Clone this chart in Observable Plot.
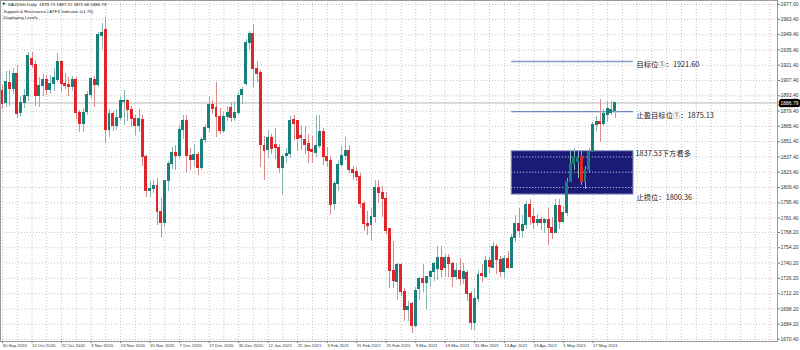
<!DOCTYPE html>
<html><head><meta charset="utf-8">
<script src="https://cdn.jsdelivr.net/npm/d3@7"></script>
<script src="https://cdn.jsdelivr.net/npm/@observablehq/plot@0.6"></script>
<style>
html,body{margin:0;padding:0;background:#fff;}
#chart{width:800px;height:350px;overflow:hidden;}
</style></head><body><div id="chart"></div>
<script>
// XAUUSD Daily, 30 Sep 2020 .. 25 May 2021 (bar index 0..166)
const opens = [
1898,1887,1905,1900,1913,1878,1887,1893,1927,1922,
1893,1902,1908,1899,1904,1908,1924,1904,1903,1901,
1908,1878,1868,1879,1894,1908,1903,1948,1954,1862,
1877,1866,1873,1888,1889,1880,1872,1866,1871,1837,
1806,1808,1811,1787,1777,1815,1831,1841,1838,1862,
1870,1838,1835,1839,1827,1853,1864,1885,1882,1874,
1861,1874,1882,1873,1878,1894,1904,1942,1950,1918,
1914,1847,1844,1855,1848,1846,1827,1838,1840,1871,
1870,1857,1853,1849,1844,1841,1847,1860,1837,1834,
1794,1813,1830,1838,1843,1825,1824,1819,1794,1776,
1775,1782,1809,1804,1799,1771,1733,1723,1738,1714,
1697,1703,1683,1716,1726,1722,1727,1732,1735,1745,
1736,1745,1739,1727,1733,1726,1731,1712,1685,1707,
1730,1727,1742,1736,1755,1743,1732,1744,1736,1763,
1776,1770,1775,1793,1782,1777,1780,1777,1780,1772,
1768,1792,1778,1786,1814,1831,1833,1837,1814,1825,
1842,1867,1869,1868,1876,1878,1879.73];
const highs = [
1903,1916,1917,1918,1921,1893,1899,1933,1933,1926,
1910,1913,1912,1912,1918,1932,1926,1914,1910,1911,
1910,1880,1882,1897,1910,1911,1951,1960,1965,1881,
1879,1881,1892,1898,1890,1884,1875,1881,1875,1839,
1815,1816,1818,1799,1816,1833,1846,1848,1866,1875,
1875,1845,1849,1841,1855,1867,1892,1889,1906,1882,
1878,1884,1887,1888,1896,1901,1945,1952,1959,1925,
1917,1856,1862,1858,1863,1849,1840,1845,1874,1875,
1871,1865,1865,1858,1856,1875,1875,1863,1846,1838,
1815,1834,1847,1855,1848,1829,1828,1822,1797,1787,
1790,1816,1816,1810,1805,1772,1760,1740,1740,1717,
1705,1704,1718,1727,1739,1728,1733,1741,1755,1755,
1748,1748,1741,1740,1744,1740,1733,1714,1716,1733,
1739,1746,1745,1759,1757,1746,1747,1751,1766,1784,
1790,1784,1797,1798,1790,1785,1782,1781,1790,1782,
1798,1798,1792,1818,1843,1845,1843,1843,1829,1845,
1869,1874,1890,1881,1888,1888,1887.21];
const lows = [
1881,1883,1884,1895,1873,1874,1882,1888,1918,1884,
1883,1893,1894,1895,1897,1906,1896,1899,1893,1897,
1872,1860,1860,1875,1891,1883,1901,1936,1850,1855,
1861,1862,1871,1866,1870,1864,1857,1860,1829,1800,
1800,1804,1775,1764,1773,1806,1826,1825,1836,1853,
1823,1825,1828,1820,1825,1850,1860,1876,1855,1858,
1859,1870,1869,1870,1876,1885,1902,1935,1901,1906,
1828,1816,1836,1840,1835,1822,1802,1831,1836,1852,
1842,1843,1840,1831,1831,1837,1845,1830,1828,1784,
1788,1806,1828,1834,1822,1816,1815,1790,1769,1765,
1760,1776,1795,1782,1766,1717,1717,1706,1710,1687,
1687,1676,1681,1706,1713,1697,1718,1723,1724,1727,
1727,1727,1718,1724,1720,1721,1705,1678,1678,1704,
1722,1726,1731,1735,1730,1727,1726,1734,1735,1759,
1764,1763,1771,1775,1771,1774,1770,1767,1756,1762,
1767,1771,1776,1783,1814,1825,1818,1811,1808,1823,
1841,1861,1851,1865,1869,1875,1872.68];
const closes = [
1886,1906,1900,1913,1877,1887,1893,1930,1922,1893,
1902,1908,1899,1904,1910,1924,1904,1902,1901,1908,
1878,1868,1878,1894,1909,1903,1949,1951,1862,1877,
1866,1873,1889,1889,1880,1872,1866,1872,1837,1806,
1808,1811,1787,1777,1815,1831,1841,1838,1862,1870,
1838,1835,1839,1827,1853,1864,1885,1881,1874,1861,
1874,1878,1873,1878,1893,1899,1942,1950,1918,1913,
1848,1843,1855,1845,1846,1827,1837,1840,1870,1868,
1854,1855,1848,1843,1842,1847,1860,1837,1834,1793,
1813,1830,1838,1843,1825,1823,1819,1794,1776,1774,
1782,1809,1804,1799,1770,1733,1724,1738,1714,1697,
1700,1683,1715,1726,1722,1727,1732,1739,1745,1734,
1745,1739,1727,1733,1726,1732,1712,1685,1707,1729,
1728,1742,1737,1755,1743,1732,1744,1736,1763,1776,
1770,1775,1793,1782,1777,1780,1777,1780,1772,1768,
1792,1778,1786,1814,1831,1836,1836,1814,1825,1842,
1867,1869,1868,1877,1881,1880,1886.79];

const dateTickBars = [0,8,16,24,32,40,48,56,64,72,80,88,96,104,112,120,128,136,144,152,160];
const dateTickLabels = ["30 Sep 2020","12 Oct 2020","22 Oct 2020","3 Nov 2020","13 Nov 2020","25 Nov 2020","7 Dec 2020","17 Dec 2020","30 Dec 2020","12 Jan 2021","22 Jan 2021","3 Feb 2021","15 Feb 2021","25 Feb 2021","9 Mar 2021","19 Mar 2021","31 Mar 2021","13 Apr 2021","23 Apr 2021","5 May 2021","17 May 2021"];
const priceTicks = [1977.00,1963.40,1949.40,1935.40,1921.40,1907.40,1893.40,1879.40,1865.40,1851.40,1837.40,1823.40,1809.40,1795.40,1781.40,1768.20,1754.20,1740.20,1726.20,1712.20,1698.20,1684.20,1670.40];

const levelValues = [1921.60, 1875.13, 1837.53, 1800.36];
const levelTexts = ["目标位①：1921.60", "止盈目标位①：1875.13", "1837.53下方看多", "止损位：1800.36"];
const levelStartBar = 138, levelEndBar = 171;
const bidPrice = 1886.79;
const headerLines = ["XAUUSD,Daily  1879.73 1887.21 1872.68 1886.79", "Support & Resistance | ATFX Indicator (v1.70)\nDisplaying Levels"];

const bars = opens.map((o, i) => ({i, o, h: highs[i], l: lows[i], c: closes[i], up: closes[i] >= o}));
const levels = levelValues.map((v, k) => ({v, t: levelTexts[k]}));
const gridBars = d3.range(0, 211, 4);
const boxGrid = priceTicks.filter(v => v > levelValues[3] && v < levelValues[2]);

const BULL = "#17807a", BEAR = "#e0262b", BULLW = "#86b9b6", BEARW = "#d98a8a";
const small = {fontFamily: "Liberation Sans, Arial, sans-serif", fill: "#333"};
const cjk = "Noto Sans CJK SC, sans-serif";

const chart = Plot.plot({
  width: 800, height: 350,
  marginLeft: 0, marginRight: 23, marginTop: 0, marginBottom: 9,
  style: {background: "#fff", overflow: "visible"},
  x: {domain: [-0.542, 210.03], axis: null},
  y: {domain: [1668.36, 1980.66], axis: null},
  marks: [
    Plot.ruleX(gridBars, {x: d => d, stroke: "#c4c4c4", strokeDasharray: "1,2"}),
    Plot.ruleY(priceTicks, {y: d => d, stroke: "#c4c4c4", strokeDasharray: "1,2"}),
    Plot.rect([levelValues], {x1: () => levelStartBar, x2: () => levelEndBar, y1: d => d[3], y2: d => d[2],
      fill: "#1b1b75", stroke: "#8a8ac4", strokeWidth: 1, insetTop: -5.5, insetBottom: 2.8}),
    Plot.ruleY(boxGrid, {y: d => d, x1: () => levelStartBar, x2: () => levelEndBar, stroke: "#d8d8f0", strokeDasharray: "1,2"}),
    Plot.ruleY([levelValues[0]], {y: d => d, x1: () => levelStartBar, x2: () => levelEndBar, stroke: "#86a0cc", strokeWidth: 1.5, dy: -3.5}),
    Plot.ruleY([levelValues[1]], {y: d => d, x1: () => levelStartBar, x2: () => levelEndBar, stroke: "#4f6fb0", strokeWidth: 1, dy: -4}),
    Plot.ruleY([bidPrice], {y: d => d, stroke: "#b8b8b8", strokeWidth: 1}),
    Plot.ruleX(bars, {x: "i", y1: "l", y2: "h", stroke: d => d.up ? BULLW : BEARW, strokeWidth: 1, shapeRendering: "crispEdges"}),
    Plot.rect(bars, {x1: d => d.i - 0.4, x2: d => d.i + 0.4, y1: d => Math.min(d.o, d.c), y2: d => Math.max(d.o, d.c),
      fill: d => d.up ? BULL : BEAR, insetTop: -0.5, insetBottom: -0.5, shapeRendering: "crispEdges"}),
    Plot.frame({stroke: "#9a9a9a"}),
    Plot.axisX(dateTickBars, {anchor: "bottom", tickFormat: d => dateTickLabels[dateTickBars.indexOf(d)], textAnchor: "start",
      tickSize: 2, tickPadding: 0.5, fontSize: 4.3, stroke: "#777", ...small, label: null}),
    Plot.axisY(priceTicks, {anchor: "right", tickFormat: d => d.toFixed(2), tickSize: 2, tickPadding: 1, fontSize: 5, stroke: "#777", ...small, label: null}),
    Plot.text([bidPrice], {y: d => d, frameAnchor: "right", textAnchor: "start", dx: 3, text: d => d.toFixed(2),
      fontSize: 5, fontFamily: small.fontFamily, fill: "white", stroke: "black", strokeWidth: 4.5}),
    Plot.text(levels.filter((d, k) => k !== 2), {x: () => levelEndBar, y: "v", text: "t", textAnchor: "start", dx: 3,
      fontSize: 7.3, fontFamily: cjk, fill: "#222"}),
    Plot.text([levels[2]], {x: () => levelEndBar, y: "v", text: "t", textAnchor: "start", dx: 2, dy: -3,
      fontSize: 7.3, fontFamily: cjk, fill: "#222"}),
    Plot.text(["▼"], {frameAnchor: "top-left", dx: 2, dy: 2.2, lineAnchor: "top", text: d => d, fontSize: 3.5, fill: "#222", fontFamily: "DejaVu Sans"}),
    Plot.text([headerLines[0]], {frameAnchor: "top-left", dx: 7, dy: 2, lineAnchor: "top", text: d => d, fontSize: 4.4, ...small, fill: "#222"}),
    Plot.text([headerLines[1]], {frameAnchor: "top-left", dx: 3, dy: 8.3, lineAnchor: "top", lineHeight: 1.3, text: d => d, fontSize: 4.4, ...small, fill: "#222"})
  ]
});
document.getElementById("chart").appendChild(chart);
</script>
</body></html>
